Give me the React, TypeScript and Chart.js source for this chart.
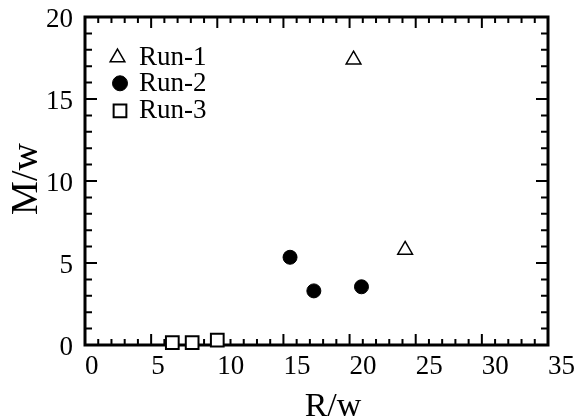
import React, { useEffect, useRef } from "react";
import { Chart, registerables } from "chart.js";

Chart.register(...registerables);

// Measured points for each run (x = R/w, y = M/w)
const run1X = [20.3, 24.2];
const run1Y = [17.4, 5.8];
const run2X = [15.5, 17.3, 20.9];
const run2Y = [5.35, 3.3, 3.55];
const run3X = [6.6, 8.1, 10.0];
const run3Y = [0.15, 0.15, 0.3];

const seriesNames = ["Run-1", "Run-2", "Run-3"];
const xTickValues = [0, 5, 10, 15, 20, 25, 30, 35];
const yTickValues = [0, 5, 10, 15, 20];
const xTitle = "R/w";
const yTitle = "M/w";

const SERIF = '"Liberation Serif", "Times New Roman", serif';

const toPoints = (xs: number[], ys: number[]) => xs.map((x, i) => ({ x, y: ys[i] }));

// Draws a legend symbol in the same shape as Chart.js point styles
function drawSymbol(ctx: CanvasRenderingContext2D, style: string, cx: number, cy: number, r: number, fill: string, lw: number) {
  ctx.save();
  ctx.beginPath();
  if (style === "triangle") {
    ctx.moveTo(cx, cy - r);
    ctx.lineTo(cx + Math.sin((2 * Math.PI) / 3) * r, cy + 0.5 * r);
    ctx.lineTo(cx - Math.sin((2 * Math.PI) / 3) * r, cy + 0.5 * r);
    ctx.closePath();
  } else if (style === "circle") {
    ctx.arc(cx, cy, r, 0, Math.PI * 2);
  } else {
    const s = Math.SQRT1_2 * r;
    ctx.rect(cx - s, cy - s, 2 * s, 2 * s);
  }
  ctx.fillStyle = fill;
  ctx.fill();
  ctx.lineWidth = lw;
  ctx.strokeStyle = "#000";
  ctx.stroke();
  ctx.restore();
}

// Boxed frame with inward major/minor ticks on all four sides
const framePlugin = {
  id: "boxFrame",
  beforeDatasetsDraw(chart: any) {
    const { ctx, chartArea: a, scales } = chart;
    const xs = scales.x;
    const ys = scales.y;
    ctx.save();
    ctx.strokeStyle = "#000";
    ctx.lineWidth = 2;
    ctx.beginPath();
    for (let v = xs.min; v <= xs.max; v++) {
      const px = xs.getPixelForValue(v);
      const len = v % 5 === 0 ? 11 : 6;
      ctx.moveTo(px, a.bottom);
      ctx.lineTo(px, a.bottom - len);
      ctx.moveTo(px, a.top);
      ctx.lineTo(px, a.top + len);
    }
    for (let v = ys.min; v <= ys.max; v++) {
      const py = ys.getPixelForValue(v);
      const len = v % 5 === 0 ? 12 : 7;
      ctx.moveTo(a.left, py);
      ctx.lineTo(a.left + len, py);
      ctx.moveTo(a.right, py);
      ctx.lineTo(a.right - len, py);
    }
    ctx.stroke();
    ctx.lineWidth = 3;
    ctx.strokeRect(a.left, a.top, a.right - a.left, a.bottom - a.top);
    ctx.restore();
  },
  afterDraw(chart: any) {
    const { ctx } = chart;
    ctx.save();
    ctx.fillStyle = "#000";

    // axis titles
    ctx.font = `34px ${SERIF}`;
    ctx.textAlign = "center";
    ctx.textBaseline = "alphabetic";
    ctx.fillText(xTitle, 333, 416);

    ctx.save();
    ctx.translate(36.5, 179);
    ctx.rotate(-Math.PI / 2);
    ctx.font = `38px ${SERIF}`;
    ctx.fillText(yTitle, 0, 0);
    ctx.restore();

    // legend
    const symbols = [
      { cx: 117.5, cy: 57.5, r: 8.5, lw: 1.5 },
      { cx: 120, cy: 83.3, r: 7.5, lw: 1 },
      { cx: 120, cy: 110.8, r: 9, lw: 2 },
    ];
    const baselines = [65, 91, 118.3];
    ctx.font = `27px ${SERIF}`;
    ctx.textAlign = "left";
    chart.data.datasets.forEach((ds: any, i: number) => {
      const s = symbols[i];
      drawSymbol(ctx, ds.pointStyle, s.cx, s.cy, s.r, ds.pointBackgroundColor, s.lw);
      ctx.fillStyle = "#000";
      ctx.fillText(ds.label, 139, baselines[i]);
    });
    ctx.restore();
  },
};

export default function App() {
  const canvasRef = useRef<HTMLCanvasElement | null>(null);

  useEffect(() => {
    const canvas = canvasRef.current;
    if (!canvas) return;
    const chart = new Chart(canvas, {
      type: "scatter",
      data: {
        datasets: [
          {
            label: seriesNames[0],
            data: toPoints(run1X, run1Y),
            pointStyle: "triangle",
            pointRadius: 8.5,
            pointBorderWidth: 1.5,
            pointBorderColor: "#000",
            pointBackgroundColor: "#fff",
            clip: false,
          },
          {
            label: seriesNames[1],
            data: toPoints(run2X, run2Y),
            pointStyle: "circle",
            pointRadius: 7,
            pointBorderWidth: 1,
            pointBorderColor: "#000",
            pointBackgroundColor: "#000",
            clip: false,
          },
          {
            label: seriesNames[2],
            data: toPoints(run3X, run3Y),
            pointStyle: "rect",
            pointRadius: 9,
            pointBorderWidth: 2,
            pointBorderColor: "#000",
            pointBackgroundColor: "#fff",
            clip: false,
          },
        ] as any,
      },
      options: {
        responsive: false,
        animation: false,
        devicePixelRatio: 1,
        layout: { padding: { top: 17, right: 27, left: 0, bottom: 0 } },
        plugins: {
          legend: { display: false },
          tooltip: { enabled: false },
        },
        scales: {
          x: {
            type: "linear",
            min: 0,
            max: 35,
            grid: { display: false, drawTicks: false },
            border: { display: false },
            afterBuildTicks: (s: any) => {
              s.ticks = xTickValues.map((v) => ({ value: v }));
            },
            afterFit: (s: any) => {
              s.height = 75;
              s.paddingLeft = 0;
              s.paddingRight = 0;
            },
            ticks: {
              align: "start",
              padding: 6,
              color: "#000",
              font: { family: SERIF, size: 27 },
              maxRotation: 0,
              autoSkip: false,
            },
          },
          y: {
            type: "linear",
            min: 0,
            max: 20,
            grid: { display: false, drawTicks: false },
            border: { display: false },
            afterBuildTicks: (s: any) => {
              s.ticks = yTickValues.map((v) => ({ value: v }));
            },
            afterFit: (s: any) => {
              s.width = 85;
              s.paddingTop = 0;
              s.paddingBottom = 0;
            },
            ticks: {
              padding: 12,
              labelOffset: 3,
              color: "#000",
              font: { family: SERIF, size: 27 },
              autoSkip: false,
            },
          },
        },
      } as any,
      plugins: [framePlugin],
    });
    return () => chart.destroy();
  }, []);

  return (
    <div style={{ position: "absolute", left: 0, top: 0, width: 575, height: 420, background: "#fff" }}>
      <canvas ref={canvasRef} width={575} height={420} style={{ display: "block" }} />
    </div>
  );
}
